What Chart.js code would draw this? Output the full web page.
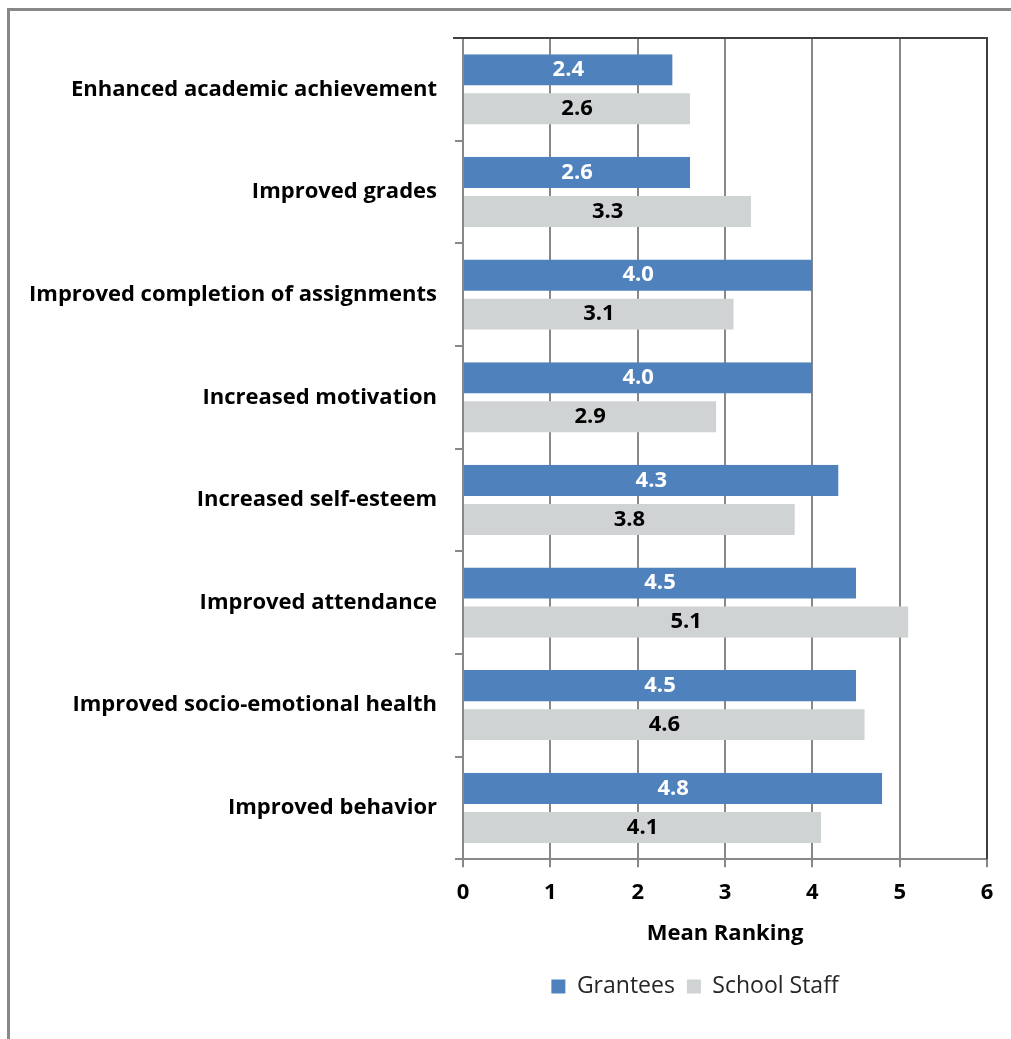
<!DOCTYPE html>
<html>
<head>
<meta charset="utf-8">
<script src="https://cdn.jsdelivr.net/npm/chart.js@4.4.1/dist/chart.umd.min.js"></script>
<style>
  html, body { margin: 0; padding: 0; background: #fff; overflow: hidden; }
  #frame {
    position: absolute; left: 7px; top: 8px;
    width: 1100px; height: 1100px;
    border: 3px solid #888;
  }
  #wrap { position: absolute; left: 0; top: 0; width: 1011px; height: 1039px; }
</style>
</head>
<body>
<div id="frame"></div>
<div id="wrap"><canvas id="rankChart" width="1011" height="1039"></canvas></div>
<script>
const categories = [
    'Enhanced academic achievement',
    'Improved grades',
    'Improved completion of assignments',
    'Increased motivation',
    'Increased self-esteem',
    'Improved attendance',
    'Improved socio-emotional health',
    'Improved behavior'
];
const grantees = [2.4, 2.6, 4.0, 4.0, 4.3, 4.5, 4.5, 4.8];
const schoolStaff = [2.6, 3.3, 3.1, 2.9, 3.8, 5.1, 4.6, 4.1];
const xTicks = [0, 1, 2, 3, 4, 5, 6];

const FONT = '"Open Sans", "Noto Sans", sans-serif';

// values printed in the middle of each bar
const barLabels = {
    id: 'barLabels',
    afterDatasetsDraw(chart) {
        const ctx = chart.ctx;
        ctx.save();
        ctx.font = 'bold 22px ' + FONT;
        ctx.textAlign = 'center';
        ctx.textBaseline = 'middle';
        chart.data.datasets.forEach((ds, i) => {
            const meta = chart.getDatasetMeta(i);
            meta.data.forEach((bar, j) => {
                ctx.fillStyle = i === 0 ? '#ffffff' : '#000000';
                const shift = i === 0 ? -2 : 2;
                ctx.fillText(ds.data[j].toFixed(1), (bar.x + bar.base) / 2, bar.y + shift);
            });
        });
        ctx.restore();
    }
};

// dark top and right edge of the plot area
const plotEdge = {
    id: 'plotEdge',
    afterDraw(chart) {
        const a = chart.chartArea;
        const ctx = chart.ctx;
        ctx.save();
        ctx.strokeStyle = '#404040';
        ctx.lineWidth = 2;
        ctx.beginPath();
        ctx.moveTo(a.left - 10, a.top);
        ctx.lineTo(a.right, a.top);
        ctx.lineTo(a.right, a.bottom);
        ctx.stroke();
        ctx.restore();
    }
};

// legend sits a bit right of the canvas centre, under the plot
const legendShift = {
    id: 'legendShift',
    afterLayout(chart) {
        const lg = chart.legend;
        const centre = (chart.chartArea.left + chart.chartArea.right) / 2 - 30;
        lg.left = 2 * centre - lg.right;
    }
};

new Chart(document.getElementById('rankChart'), {
    type: 'bar',
    data: {
        labels: categories,
        datasets: [{
            label: 'Grantees',
            data: grantees,
            backgroundColor: '#4F81BD',
            borderColor: 'rgba(0,0,0,0)',
            borderWidth: { top: 0, bottom: 4, left: 0, right: 0 },
            borderSkipped: false,
            categoryPercentage: 0.684,
            barPercentage: 1
        }, {
            label: 'School Staff',
            data: schoolStaff,
            backgroundColor: '#D0D3D4',
            borderColor: 'rgba(0,0,0,0)',
            borderWidth: { top: 4, bottom: 0, left: 0, right: 0 },
            borderSkipped: false,
            categoryPercentage: 0.684,
            barPercentage: 1
        }]
    },
    options: {
        indexAxis: 'y',
        responsive: false,
        animation: false,
        layout: { padding: { top: 38, right: 24, left: 0, bottom: 31 } },
        plugins: {
            legend: {
                position: 'bottom',
                labels: {
                    color: '#262626',
                    font: { family: FONT, size: 23 },
                    boxWidth: 14,
                    boxHeight: 14,
                    padding: 12
                }
            },
            tooltip: { enabled: false }
        },
        scales: {
            x: {
                min: 0,
                max: 6,
                ticks: {
                    stepSize: 1,
                    color: '#000',
                    padding: 12,
                    font: { family: FONT, size: 22, weight: 'bold' },
                    callback: (v) => xTicks.includes(v) ? String(v) : ''
                },
                grid: { color: '#888', lineWidth: 2, tickLength: 8 },
                border: { color: '#888', width: 2 },
                title: {
                    display: true,
                    text: 'Mean Ranking',
                    color: '#000',
                    font: { family: FONT, size: 22, weight: 'bold' },
                    padding: { top: 3, bottom: 16 }
                }
            },
            y: {
                ticks: {
                    color: '#000',
                    padding: 18,
                    font: { family: FONT, size: 22, weight: 'bold' }
                },
                grid: { color: '#888', lineWidth: 2, tickLength: 8, drawOnChartArea: false, offset: true },
                border: { color: '#888', width: 2 },
                afterFit: (scale) => { scale.width = 463; }
            }
        }
    },
    plugins: [barLabels, plotEdge, legendShift]
});
</script>
</body>
</html>
